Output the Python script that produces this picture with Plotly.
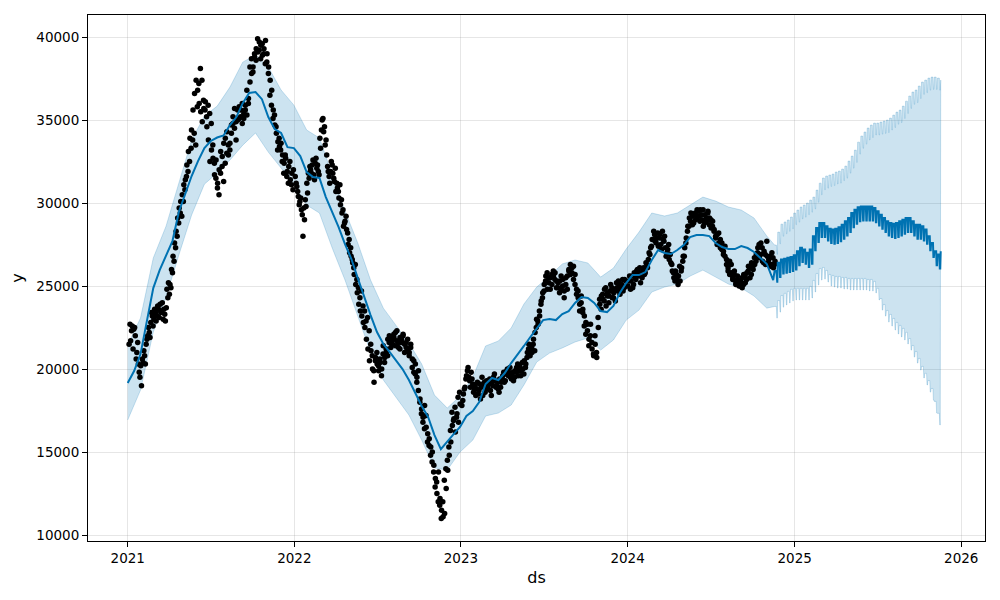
import pandas as pd
import plotly.graph_objects as go

obs_2021 = [21500, 21700, 22600, 22400, 22000, 21000, 20300, 19500, 19000,
            20400, 20800, 21500, 22000, 22200, 22800, 23200, 23000,
            23400, 23200, 23600, 23900, 23500, 23000, 23300, 23700, 24300,
            24500, 24900, 25800, 26500, 27300, 28000, 28800, 29400, 29200,
            30100, 30800, 31600, 31900, 32500, 33300, 33800, 34200, 33500,
            35800, 37200, 38100, 37400, 36200, 35600, 35200, 35900, 35400,
            34800, 33500, 32400, 31500, 30900, 30500, 31800, 32200, 31300,
            32400, 33000, 33500, 33200, 34200, 34800, 34500, 33800, 35000,
            35100, 35600, 34800, 35400, 35900, 35300, 36300, 37300, 37800,
            38200, 38800, 39300, 39100, 39700, 39500, 38900, 39300, 39800,
            39000, 38200, 37400, 36800, 35600, 34700, 34200, 33700, 33400,
            33600, 32900, 32400, 32700, 31900, 32200, 31400, 31800, 32000]
obs_2021_b = [22700, 22300, 21200, 22500, 20600, 21600, 19800, 20200, 20600,
              21100, 20300, 21800, 22500, 21900, 23400, 22600, 23600,
              22900, 23800, 23100, 23400, 24000, 23600, 22900, 24800, 25200,
              25100, 26000, 26800, 27600, 28300, 29100, 29700, 30100, 30500,
              31100, 31400, 32300, 33100, 33900, 34400, 35600, 36600, 37400,
              36800, 36000, 35500, 34900, 35700, 36100, 34600, 33800, 32500,
              33200, 32700, 31700, 32600, 31200, 32000, 33100, 32800, 33600,
              33900, 34300, 32900, 33600, 34700, 35200, 35700, 34900, 35600,
              35800, 35200, 36000, 35100, 35600, 36800, 36000, 38200, 38700,
              37900, 39000, 38600, 39900, 39200, 38700, 39600, 39000, 38400,
              38500, 37800, 36500, 35900, 35100, 35300, 34600, 33200, 33900,
              33200, 32500, 31800, 32900, 31600, 31200, 32500, 31100, 30800]
obs_2022 = [31600, 31000, 30400, 30100, 29600, 28000, 29000, 29800, 30600,
            31500, 32000, 32300, 31700, 32400, 32100, 31900, 33900, 34400,
            35100, 34600, 33800, 32200, 31600, 31900, 32300, 31500, 32100,
            31200, 30700, 31100, 30200, 29600, 28800, 29200, 28200, 27800,
            27300, 26600, 26100, 26300, 25400, 24900, 24300, 24700, 23800,
            23500, 22900, 23100, 22300, 21500, 20800, 19900, 20500, 21000,
            20200, 20600, 19600, 20900, 20400, 21200, 20800, 21600, 21900,
            21700, 22100, 21400, 22300, 21600, 21200, 21800, 22000, 21500,
            21300, 21800, 21000, 21500, 20600, 19800, 20300, 19500, 19900,
            18200, 17600, 17100, 17800, 16500, 16100, 15800, 15300, 15000,
            14200, 13400, 12500, 13800, 12200, 11500, 11100, 11300, 12800,
            13900, 14800, 15600, 16600, 17000, 16200, 17300, 16800, 17900]
obs_2022_b = [31200, 30700, 29900, 30300, 29300, 29700, 30200, 31200, 31800,
              32200, 31800, 32600, 31400, 32700, 32300, 31700, 33300, 35000,
              34300, 33500, 32900, 31900, 31200, 32500, 31800, 31300, 30700,
              30900, 30300, 29900, 29400, 28600, 28900, 28400, 27500, 27000,
              26800, 26400, 25700, 25100, 24600, 23900, 23500, 23200, 22800,
              22500, 21800, 21200, 20500, 21100, 20000, 19200, 20700, 20300,
              19900, 20400, 20000, 21400, 20700, 21000, 21800, 22000, 21300,
              21500, 21900, 22200, 21700, 21300, 21900, 21600, 22100, 21000,
              21600, 21200, 20800, 21300, 20100, 20500, 19700, 19200, 18700,
              18000, 17300, 16800, 16400, 17200, 15600, 15400, 14800, 14400,
              13800, 12900, 13200, 12000, 11800, 11000, 12000, 13300, 14000,
              14500, 15300, 16300, 17400, 16900, 17700, 17100, 18300, 18600]
obs_2023 = [17800, 18500, 18900, 19600, 20100, 19300, 19800, 19100, 18800,
            18400, 19200, 18700, 18200, 19500, 19000, 18600, 19300,
            18800, 19400, 18400, 19000, 19700, 18900, 19200, 18600, 18900,
            19400, 19800, 19300, 19900, 19600, 20100, 19400, 19800, 19500,
            19800, 20300, 19900, 19600, 20400, 19700, 20100, 20700, 21200,
            20800, 21300, 21500, 21100, 22500, 22900, 23500, 23900, 24300,
            24700, 25300, 25800, 25500, 24800, 25700, 25900, 25400, 24900,
            25200, 24600, 25600, 25000, 24300, 25500, 24800, 25900, 26300,
            26100, 25400, 25700, 24800, 24300, 23900, 24400, 23600, 23200,
            22800, 22300, 21800, 22700, 21200, 20800, 21500, 20700, 22500,
            23900, 24400, 24200, 24800, 23800, 24600, 24400, 25100, 24300,
            24600, 24100, 24900, 25300, 24500, 25100, 24700, 25400, 25000]
obs_2023_b = [18100, 18800, 19400, 19900, 19500, 18900, 19400, 18600, 19000,
              18800, 18500, 19100, 18900, 18400, 19200, 18800, 19000,
              19100, 18700, 19200, 19500, 19300, 19000, 18800, 19400, 19200,
              19600, 19200, 19700, 20000, 19800, 19500, 19700, 19300, 19900,
              20100, 19600, 20200, 19900, 20000, 20500, 20300, 21000, 21500,
              21200, 21000, 21800, 22200, 23000, 22700, 23200, 24100, 24600,
              25100, 25600, 24800, 25200, 25500, 25100, 25600, 25800, 25300,
              24900, 25300, 24800, 25400, 24700, 25100, 25600, 26000, 25700,
              25800, 26200, 25100, 24500, 24700, 23500, 24000, 23400, 22600,
              22100, 22700, 21400, 22000, 21600, 20900, 22000, 21000, 23100,
              24200, 23600, 24500, 24100, 24900, 24400, 24000, 24700, 24900,
              24300, 24800, 25200, 24700, 25000, 24800, 25400, 24900, 25300]
obs_2024 = [25000, 25600, 25300, 24900, 25800, 25400, 26000, 25700, 25200,
            25500, 26100, 25800, 26300, 26600, 26900, 27400, 27800, 28100,
            27600, 28200, 27900, 27500, 28300, 27700, 27300, 27000, 27500,
            26900, 26300, 25800, 25300, 25700, 25100, 26200, 25900, 26500,
            26800, 27600, 28300, 28600, 28900, 29200, 28800, 29400, 29100,
            29500, 28900, 29300, 29600, 28800, 29100, 29400, 28700, 29000,
            28600, 28300, 28000, 27500, 28200, 27800, 27200, 26900, 27400,
            26600, 26100, 25700, 26300, 25500, 25900, 25200, 25600, 25000,
            25300, 24900, 25700, 25200, 25800, 26200, 25500, 26400, 26000,
            26300, 26900, 27300, 26700, 27600, 26500, 27100, 26300, 26800,
            26600, 26200, 27000, 26100, 26500]
obs_2024_b = [25300, 24800, 25600, 25100, 25500, 25900, 25600, 26100, 25800,
              26000, 25700, 26400, 26100, 27000, 27300, 27800, 28300, 27700,
              27900, 27400, 28100, 27200, 27800, 28000, 26800, 27200, 26600,
              26400, 25900, 25500, 25900, 25400, 25600, 25300, 26100, 26800,
              27300, 27900, 28600, 29100, 29400, 28700, 29300, 29000, 29600,
              29200, 29600, 29000, 28600, 29300, 28900, 29500, 29100, 28500,
              28900, 28400, 27900, 28100, 27600, 27300, 27600, 27100, 26800,
              26300, 25900, 26500, 25800, 25400, 25700, 25100, 25400, 25200,
              25000, 25500, 25100, 25600, 25400, 25900, 26100, 25700, 26200,
              26700, 26500, 27000, 27500, 26900, 27300, 26400, 26900, 27700,
              26400, 26800, 26300, 26700, 26300]
obs_spans = [("2021-01-04", "2021-12-30"), ("2022-01-03", "2022-12-30"),
             ("2023-01-03", "2023-12-29"), ("2024-01-02", "2024-11-19")]

# ---------------- fitted trend (history), every 14 days ----------------
yhat_hist = [19160, 19880, 20900, 22830, 24880, 25960, 26870, 27710, 29460, 30540,
             31630, 32530, 33310, 33740, 33950, 34070, 34700, 35180, 36020, 36630,
             36690, 36260, 35180, 34460, 34220, 33370, 33310, 32830, 31870, 31570,
             31510, 30360, 29460, 28550, 27530, 26630, 25480, 24340, 23250, 22230,
             21510, 21020, 20480, 20000, 19340, 18550, 17770, 17110, 16020, 15180,
             15660, 16080, 16510, 17170, 17470, 18010, 19100, 19460, 19340, 19760,
             20360, 20840, 21390, 21930, 22470, 22950, 23010, 22950, 23310, 23490,
             23980, 24340, 24280, 23980, 23490, 23430, 23800, 24580, 25180, 25660,
             25660, 25840, 26570, 27170, 26990, 26930, 27170, 27470, 27950, 28070,
             28070, 28010, 27590, 27350, 27230, 27230, 27410, 27290, 27050, 26690,
             26330, 25360]

# ---------------- uncertainty interval (history), every 28 days ----------------
upper_hist = [21450, 23070, 26690, 28610, 31200, 33800, 35240, 35840, 36990, 38490,
              38920, 38190, 36810, 35900, 34400, 33920, 31690, 29520, 27590, 25360,
              23670, 22650, 21570, 20300, 18430, 17650, 18370, 19520, 21390, 21690,
              22470, 23920, 24940, 25600, 26330, 26570, 26390, 25540, 26080, 27230,
              28250, 29400, 29220, 29400, 29880, 30360, 30120, 29760, 29580, 29100,
              28010]
lower_hist = [16930, 18730, 22230, 24340, 26870, 29280, 31140, 31810, 32590, 33490,
              34220, 33070, 32110, 31140, 29880, 29400, 27290, 25360, 23250, 21020,
              19340, 18310, 17230, 15720, 14040, 13920, 15000, 15720, 17170, 17350,
              17830, 19040, 20420, 20960, 21270, 21630, 21870, 21140, 21750, 22950,
              23550, 24640, 24940, 25120, 25600, 25960, 25540, 25120, 24880, 24400,
              23670]

# ---------------- forecast, weekly: weekday level and weekend level ----------------
yhat_fut_weekday = [25900, 26400, 26600, 26650, 26700, 26750, 26850, 27100, 27300, 27200,
                    27000, 27200, 28000, 28500, 28800, 28800, 28600, 28450, 28400, 28450,
                    28550, 28700, 28900, 29100, 29400, 29600, 29750, 29800, 29800, 29800,
                    29800, 29700, 29500, 29300, 29100, 28900, 28800, 28750, 28800, 28900,
                    29000, 29100, 29100, 28900, 28700, 28700, 28600, 28400, 28000, 27600,
                    27100, 26900, 27100]
yhat_fut_weekend = [25200, 25550, 25750, 25800, 25850, 25900, 26000, 26250, 26450, 26350,
                    26150, 26350, 27150, 27650, 27950, 27950, 27750, 27600, 27550, 27600,
                    27700, 27850, 28050, 28250, 28550, 28750, 28900, 28950, 28950, 28950,
                    28950, 28850, 28650, 28450, 28250, 28050, 27950, 27900, 27950, 28050,
                    28150, 28250, 28250, 28050, 27850, 27850, 27750, 27550, 27150, 26750,
                    26250, 26050, 26250]
upper_fut_weekday = [27470, 28250, 28730, 28860, 28980, 29160, 29400, 29580, 29760, 29880,
                     30000, 30180, 30360, 30780, 31200, 31510, 31630, 31690, 31750, 31870,
                     31930, 32050, 32230, 32530, 32830, 33190, 33670, 34040, 34280, 34520,
                     34700, 34820, 34820, 34880, 34940, 35000, 35120, 35300, 35480, 35600,
                     35840, 36140, 36450, 36690, 36810, 37050, 37290, 37410, 37530, 37590,
                     37590, 37530, 37410]
upper_fut_weekend = [26900, 27550, 28000, 28150, 28300, 28450, 28700, 28850, 29050, 29150,
                     29300, 29450, 29650, 30050, 30500, 30800, 30900, 31000, 31050, 31150,
                     31200, 31350, 31500, 31800, 32100, 32450, 32950, 33300, 33550, 33800,
                     33950, 34100, 34100, 34150, 34200, 34250, 34400, 34550, 34750, 34850,
                     35100, 35400, 35700, 35950, 36050, 36300, 36550, 36650, 36800, 36850,
                     36850, 36800, 36700]
lower_fut_weekday = [23770, 24130, 24430, 24560, 24680, 24800, 24860, 24860, 24860, 24860,
                     24860, 24980, 25340, 25760, 26060, 26120, 25940, 25700, 25640, 25580,
                     25580, 25520, 25520, 25460, 25460, 25460, 25460, 25460, 25460, 25400,
                     25400, 25280, 24860, 24250, 23890, 23530, 23290, 23050, 22810, 22630,
                     22450, 22210, 21840, 21420, 21060, 20640, 20160, 19740, 19310, 18830,
                     18050, 17330, 16900]
lower_fut_weekend = [23070, 23430, 23730, 23860, 23980, 24100, 24160, 24160, 24160, 24160,
                     24160, 24280, 24640, 25060, 25360, 25420, 25240, 25000, 24940, 24880,
                     24880, 24820, 24820, 24760, 24760, 24760, 24760, 24760, 24760, 24700,
                     24700, 24580, 24160, 23550, 23190, 22830, 22590, 22350, 22110, 21930,
                     21750, 21510, 21140, 20720, 20360, 19940, 19460, 19040, 18610, 18130,
                     17350, 16630, 16200]
forecast_first_week = "2024-11-18"
forecast_end = "2025-11-19"

year_ticks = ["2021", "2022", "2023", "2024", "2025", "2026"]
y_ticks = [10000, 15000, 20000, 25000, 30000, 35000, 40000]

BLUE = "#0072B2"
BAND = "rgba(0,114,178,0.2)"

# ---------------- build series ----------------
obs_x, obs_y = [], []
main_sets = [obs_2021, obs_2022, obs_2023, obs_2024]
b_sets = [obs_2021_b, obs_2022_b, obs_2023_b, obs_2024_b]
for vals, (s, e) in zip(main_sets, obs_spans):
    obs_x += list(pd.date_range(s, e, periods=len(vals)))
    obs_y += vals
for vals, (s, e) in zip(b_sets, obs_spans):
    s2 = pd.Timestamp(s) + pd.Timedelta(days=2)
    e2 = pd.Timestamp(e) - pd.Timedelta(days=1)
    obs_x += list(pd.date_range(s2, e2, periods=len(vals)))
    obs_y += vals

hist_x = list(pd.date_range("2021-01-01", periods=len(yhat_hist), freq="14D"))
band_x = list(pd.date_range("2021-01-01", periods=len(upper_hist), freq="28D"))
weeks = pd.date_range(forecast_first_week, periods=len(yhat_fut_weekday), freq="7D")
end = pd.Timestamp(forecast_end)


def weekly_path(wd, we):
    xs, ys = [], []
    for d, a, b in zip(weeks, wd, we):
        for off, v in ((0, a), (4, a), (5, b), (6, b)):
            t = d + pd.Timedelta(days=off)
            if t <= end:
                xs.append(t)
                ys.append(v)
    return xs, ys


fx, fy = weekly_path(yhat_fut_weekday, yhat_fut_weekend)
ux, uy = weekly_path(upper_fut_weekday, upper_fut_weekend)
lx, ly = weekly_path(lower_fut_weekday, lower_fut_weekend)

poly_x = band_x + ux + lx[::-1] + band_x[::-1]
poly_y = upper_hist + uy + ly[::-1] + lower_hist[::-1]

fig = go.Figure()
fig.add_trace(go.Scatter(x=poly_x, y=poly_y, mode="lines", fill="toself",
                         fillcolor=BAND, line=dict(color=BAND, width=1),
                         hoverinfo="skip", showlegend=False))
fig.add_trace(go.Scatter(x=obs_x, y=obs_y, mode="markers",
                         marker=dict(color="black", size=5.5, line=dict(width=0)),
                         showlegend=False))
fig.add_trace(go.Scatter(x=hist_x + fx, y=yhat_hist + fy, mode="lines",
                         line=dict(color=BLUE, width=2), showlegend=False))

axis_common = dict(showgrid=True, gridcolor="rgba(128,128,128,0.2)", gridwidth=1,
                   showline=True, linecolor="black", linewidth=1, mirror=True,
                   ticks="outside", ticklen=5, tickcolor="black", zeroline=False)

fig.update_layout(
    width=1000, height=600,
    margin=dict(l=88, r=15, t=15, b=59),
    plot_bgcolor="white", paper_bgcolor="white",
    font=dict(family="DejaVu Sans", size=13.5, color="black"),
    xaxis=dict(axis_common, type="date", range=["2020-10-06", "2026-02-22"],
               tickvals=[f"{y}-01-01" for y in year_ticks], ticktext=year_ticks,
               title=dict(text="ds", standoff=6)),
    yaxis=dict(axis_common, range=[9640, 41330],
               tickvals=y_ticks, ticktext=[str(v) for v in y_ticks],
               title=dict(text="y", standoff=8)),
)

fig.write_html("out.html")
